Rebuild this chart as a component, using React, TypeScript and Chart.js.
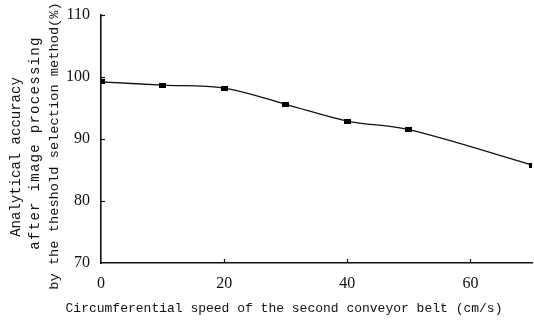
import React, { useEffect, useRef } from "react";
import { Chart, registerables } from "chart.js";

Chart.register(...registerables);

const speeds = [0, 10, 20, 30, 40, 50, 70];
const accuracy = [99.2, 98.7, 98.2, 95.6, 92.9, 91.5, 85.8];
const xTitle = "Circumferential speed of the second conveyor belt (cm/s)";
const yTitleLines = [
  "Analytical accuracy",
  "after image processing",
  "by the theshold selection method(%)",
];
const yMin = 70;
const yMax = 110;
const yStep = 10;
const xMin = 0;
const xMax = 70;
const xStep = 20;

const INK = "#111111";

const decorPlugin = {
  id: "decor",
  afterDraw(chart: any) {
    const { ctx, scales } = chart;
    const xs = scales.x;
    const ys = scales.y;
    ctx.save();
    ctx.strokeStyle = INK;
    ctx.lineWidth = 1.2;
    // inner tick marks on y axis
    ys.ticks.forEach((t: any) => {
      if (t.value === yMin) return;
      const py = Math.round(ys.getPixelForValue(t.value)) + 0.5;
      ctx.beginPath();
      ctx.moveTo(xs.left, py);
      ctx.lineTo(xs.left + 4, py);
      ctx.stroke();
    });
    // inner tick marks on x axis
    xs.ticks.forEach((t: any) => {
      if (t.value === xMin) return;
      const px = Math.round(xs.getPixelForValue(t.value)) + 0.5;
      ctx.beginPath();
      ctx.moveTo(px, ys.bottom);
      ctx.lineTo(px, ys.bottom - 4);
      ctx.stroke();
    });
    // axis titles
    ctx.fillStyle = INK;
    ctx.textBaseline = "middle";
    ctx.textAlign = "center";
    ctx.font = "13px 'Liberation Mono', monospace";
    ctx.fillText(xTitle, 284, 309);
    const lineX = [16, 35, 54];
    const lineY = [157, 143, 146];
    const lineSize = [14, 14, 13.7];
    const lineSpacing = ["0px", "1.3px", "0px"];
    yTitleLines.forEach((line, i) => {
      ctx.save();
      ctx.font = `${lineSize[i]}px 'Liberation Mono', monospace`;
      (ctx as any).letterSpacing = lineSpacing[i];
      ctx.translate(lineX[i], lineY[i]);
      ctx.rotate(-Math.PI / 2);
      ctx.fillText(line, 0, 0);
      ctx.restore();
    });
    ctx.restore();
  },
};

export default function App() {
  const ref = useRef<HTMLCanvasElement | null>(null);
  useEffect(() => {
    if (!ref.current) return;
    const marker = document.createElement("canvas");
    marker.width = 7;
    marker.height = 5;
    const mctx = marker.getContext("2d")!;
    mctx.fillStyle = "#000";
    mctx.fillRect(0, 0, 7, 5);

    const chart = new Chart(ref.current, {
      type: "line",
      data: {
        datasets: [
          {
            data: speeds.map((s, i) => ({ x: s, y: accuracy[i] })),
            borderColor: INK,
            borderWidth: 1.3,
            tension: 0.35,
            pointStyle: marker as any,
            pointRadius: 4,
            fill: false,
          },
        ],
      },
      options: {
        animation: false,
        responsive: false,
        devicePixelRatio: 1,
        layout: {
          autoPadding: false,
          padding: { top: 15, right: 2, left: 0, bottom: 0 },
        },
        plugins: {
          legend: { display: false },
          tooltip: { enabled: false },
        },
        scales: {
          x: {
            type: "linear",
            min: xMin,
            max: xMax,
            grid: { display: false, drawTicks: false },
            border: { display: true, color: INK, width: 1.6 },
            ticks: {
              stepSize: xStep,
              includeBounds: false,
              padding: 11,
              color: INK,
              font: { family: "'Liberation Serif', serif", size: 16 },
            },
            afterFit: (s: any) => {
              s.height = 60;
              s.paddingLeft = 0;
              s.paddingRight = 0;
            },
          },
          y: {
            min: yMin,
            max: yMax,
            grid: { display: false, drawTicks: false },
            border: { display: true, color: INK, width: 1.6 },
            ticks: {
              stepSize: yStep,
              padding: 11,
              color: INK,
              font: { family: "'Liberation Serif', serif", size: 16 },
            },
            afterFit: (s: any) => {
              s.width = 101;
              s.paddingTop = 0;
              s.paddingBottom = 0;
            },
          },
        },
      },
      plugins: [decorPlugin],
    });
    return () => chart.destroy();
  }, []);
  return (
    <div style={{ position: "fixed", left: 0, top: 0, width: 534, height: 323, background: "#fff" }}>
      <canvas ref={ref} width={534} height={323} style={{ display: "block", width: 534, height: 323 }} />
    </div>
  );
}
